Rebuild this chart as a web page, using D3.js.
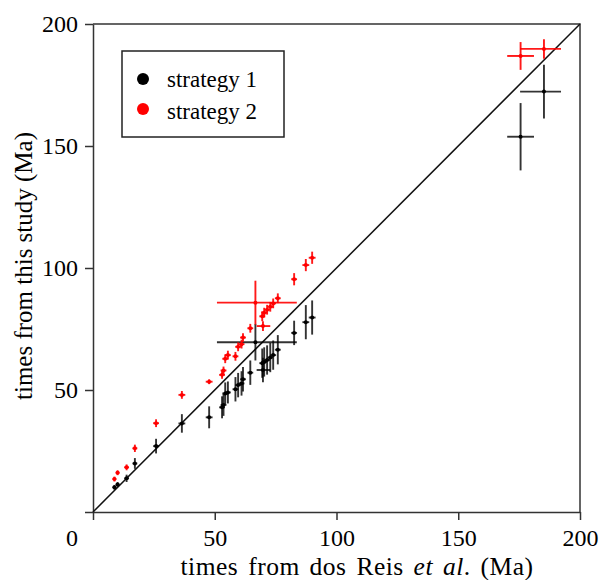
<!DOCTYPE html>
<html>
<head>
<meta charset="utf-8">
<script src="https://cdn.jsdelivr.net/npm/d3@7"></script>
<style>
  body { margin: 0; background: #fff; }
  svg text { font-family: "Liberation Serif", "Times New Roman", serif; fill: #000; }
</style>
</head>
<body>
<svg width="599" height="580"></svg>
<script>
// node ages from dos Reis et al. (shared by both strategies)
const refTimes = [8.8, 10.1, 13.8, 17.2, 25.9, 36.5, 47.7, 53.0, 53.6, 54.3, 55.4, 58.5, 59.6, 61.0, 61.6,
                  64.6, 66.7, 69.5, 69.8, 70.3, 71.5, 72.8, 74.0, 75.9, 82.6, 87.4, 90.0, 175.6, 185.2];
const refErrLo = [0.8, 0.8, 1, 1, 1.2, 1.4, 1.4, 1.2, 1.2, 1.2, 1.2, 1.2, 1.2, 1.2, 1.2,
                  1.2, 15.8, 1.2, 2.6, 1.2, 1.2, 1.2, 1.2, 1.2, 1.2, 1.4, 1.4, 5.5, 9.8];
const refErrHi = [0.8, 0.8, 1, 1, 1.2, 1.4, 1.4, 1.2, 1.2, 1.2, 1.2, 1.2, 1.2, 1.2, 1.2,
                  1.2, 17.0, 1.2, 3.0, 1.2, 1.2, 1.2, 1.2, 1.2, 1.2, 1.4, 1.4, 5.5, 7.0];

// strategy 1
const s1Times = [10.1, 11.3, 13.8, 19.9, 27.0, 36.3, 38.8, 42.9, 43.9, 48.6, 49.0, 50.3, 52.0, 52.7, 54.4,
                 57.1, 69.6, 61.0, 58.2, 61.5, 62.3, 63.3, 64.3, 66.5, 73.4, 77.8, 79.7, 153.8, 172.3];
const s1Err = [1.0, 1.0, 1.5, 2.2, 3.0, 3.8, 4.5, 4.5, 4.5, 4.5, 4.5, 5, 5, 5, 5,
               5, 7.5, 6, 5, 6, 6, 6, 6, 6, 5, 7, 7, 13.8, 11];

// strategy 2
const s2Times = [13.5, 16.1, 18.3, 26.1, 36.4, 48.0, 53.4, 56.2, 58.0, 62.8, 64.3, 63.8, 67.7, 68.8, 71.5,
                 75.3, 85.8, 80.2, 76.2, 81.7, 82.9, 84.1, 85.5, 87.6, 95.4, 101.2, 104.2, 186.9, 189.8];
const s2Err = [1.0, 1.0, 1.2, 1.5, 1.6, 1.6, 1.0, 1.6, 1.6, 1.8, 1.8, 1.8, 1.8, 1.8, 1.8,
               1.8, 9, 2, 2, 2, 2, 2, 2, 2, 2.5, 2.5, 2.5, 5.7, 4];

const ticks = [0, 50, 100, 150, 200];
const legendLabels = ["strategy 1", "strategy 2"];
const colors = ["#000", "#ff0000"];

const svg = d3.select("svg");
const x = d3.scaleLinear().domain([0, 200]).range([93, 580]);
const y = d3.scaleLinear().domain([0, 200]).range([512, 24]);

// axes
svg.append("g")
  .attr("transform", "translate(0,512)")
  .call(d3.axisBottom(x).tickValues(ticks).tickSize(8).tickSizeOuter(0).tickPadding(9)
    .tickFormat(d => d === 0 ? "" : d))
  .call(g => g.selectAll("text").style("font-size", "24px"))
  .call(g => g.selectAll("line,path").attr("stroke", "#333").attr("stroke-width", 1.5));

svg.append("g")
  .attr("transform", "translate(93,0)")
  .call(d3.axisLeft(y).tickValues(ticks).tickSize(8).tickSizeOuter(0).tickPadding(7)
    .tickFormat(d => d === 0 ? "" : d))
  .call(g => g.selectAll("text").style("font-size", "24px"))
  .call(g => g.selectAll("line,path").attr("stroke", "#333").attr("stroke-width", 1.5));

// the lone origin label
svg.append("text").attr("x", 78).attr("y", 546).attr("text-anchor", "end")
  .style("font-size", "24px").text("0");

// top / right frame
svg.append("path")
  .attr("d", `M${x(0)},${y(200)}H${x(200)}V${y(0)}`)
  .attr("fill", "none").attr("stroke", "#333").attr("stroke-width", 1.5);

// 1:1 line
svg.append("line")
  .attr("x1", x(0)).attr("y1", y(0)).attr("x2", x(200)).attr("y2", y(200))
  .attr("stroke", "#111").attr("stroke-width", 1.5);

// titles
svg.append("text")
  .attr("x", 357).attr("y", 574.5).attr("text-anchor", "middle")
  .style("font-size", "25.5px").style("word-spacing", "3px").style("letter-spacing", "0.5px")
  .call(t => {
    t.append("tspan").text("times from dos Reis ");
    t.append("tspan").style("font-style", "italic").text("et al");
    t.append("tspan").text(". (Ma)");
  });

svg.append("text")
  .attr("transform", "translate(32,266) rotate(-90)")
  .attr("text-anchor", "middle")
  .style("font-size", "25px")
  .text("times from this study (Ma)");

// points with error bars
function drawSeries(ys, yErr, color, opacity) {
  const data = refTimes.map((d, i) => ({ x: d, xlo: d - refErrLo[i], xhi: d + refErrHi[i],
                                         y: ys[i], ylo: ys[i] - yErr[i], yhi: ys[i] + yErr[i] }));
  const g = svg.append("g").attr("stroke", color).attr("stroke-opacity", opacity).attr("stroke-width", 1.9);
  g.selectAll(".v").data(data).enter().append("line")
    .attr("x1", d => x(d.x)).attr("x2", d => x(d.x))
    .attr("y1", d => y(d.ylo)).attr("y2", d => y(d.yhi));
  g.selectAll(".h").data(data).enter().append("line")
    .attr("x1", d => x(d.xlo)).attr("x2", d => x(d.xhi))
    .attr("y1", d => y(d.y)).attr("y2", d => y(d.y));
  svg.append("g").selectAll("circle").data(data).enter().append("circle")
    .attr("cx", d => x(d.x)).attr("cy", d => y(d.y)).attr("r", 2)
    .attr("fill", color);
}
drawSeries(s1Times, s1Err, colors[0], 0.8);
drawSeries(s2Times, s2Err, colors[1], 0.9);

// legend
const lg = svg.append("g");
lg.append("rect").attr("x", 122).attr("y", 51).attr("width", 162).attr("height", 86)
  .attr("fill", "#fff").attr("stroke", "#222").attr("stroke-width", 1.5);
legendLabels.forEach((lab, i) => {
  lg.append("circle").attr("cx", 143).attr("cy", 79 + i * 30).attr("r", 6).attr("fill", colors[i]);
  lg.append("text").attr("x", 167).attr("y", 87 + i * 32).style("font-size", "23px").text(lab);
});
</script>
</body>
</html>
